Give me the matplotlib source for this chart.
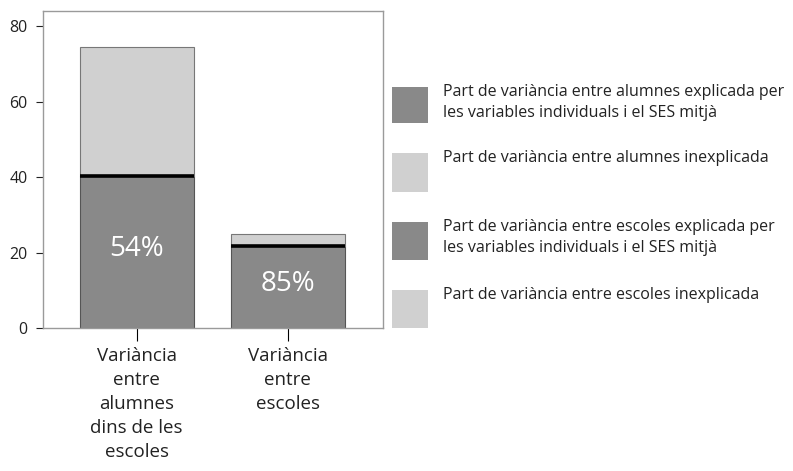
import matplotlib.pyplot as plt
import numpy as np
from matplotlib.patches import Rectangle

plt.rcParams['font.family'] = ['Open Sans', 'DejaVu Sans']

categories = ['Variància\nentre\nalumnes\ndins de les\nescoles', 'Variància\nentre\nescoles']
explained = [40.3, 21.6]      # part explicada (gris fosc)
unexplained = [34.2, 3.3]     # part inexplicada (gris clar)
pct_labels = ['54%', '85%']
legend_labels = ['Part de variància entre alumnes explicada per\nles variables individuals i el SES mitjà',
                 'Part de variància entre alumnes inexplicada',
                 'Part de variància entre escoles explicada per\nles variables individuals i el SES mitjà',
                 'Part de variància entre escoles inexplicada']

dark = '#898989'
light = '#d0d0d0'

fig = plt.figure(figsize=(7.93, 4.71), dpi=100)
ax = fig.add_axes([0.0542, 0.3036, 0.4288, 0.673])

x = np.arange(len(categories))
width = 0.755
ax.bar(x, explained, width, color=dark, edgecolor='#555555', linewidth=0.8, zorder=2)
ax.bar(x, unexplained, width, bottom=explained, color=light, edgecolor='#777777', linewidth=0.8, zorder=2)
# línia negra de separació
ax.hlines(explained, x - width / 2, x + width / 2, colors='black', linewidth=2.6, zorder=3)

for xi, e, lab in zip(x, explained, pct_labels):
    ax.text(xi, e / 2 + 0.8, lab, ha='center', va='center', color='white', fontsize=20)

ax.set_xlim(-0.62, 1.63)
ax.set_ylim(0, 84)
ax.set_yticks([0, 20, 40, 60, 80])
ax.set_xticks(x)
ax.set_xticklabels(categories, fontsize=13.5, linespacing=1.42, color='#222222')
ax.tick_params(axis='y', labelsize=11.5, colors='#222222', length=5, width=0.8, pad=6)
ax.tick_params(axis='x', length=9, width=0.8, pad=5)
for s in ax.spines.values():
    s.set_color('#9a9a9a')
    s.set_linewidth(1.0)

# llegenda
box_x = 392 / 793
box_w = 36 / 793
entries = [(87, 123, dark), (153, 192, light), (222, 260, dark), (290, 328, light)]
for (top, bot, col), lab in zip(entries, legend_labels):
    fig.add_artist(Rectangle((box_x, 1 - bot / 471), box_w, (bot - top) / 471,
                             transform=fig.transFigure, color=col, lw=0))
    fig.text(443 / 793, 1 - top / 471 + 0.006, lab, ha='left', va='top', fontsize=11.5,
             linespacing=1.38, color='#222222')

fig.savefig('out.png', dpi=100)
